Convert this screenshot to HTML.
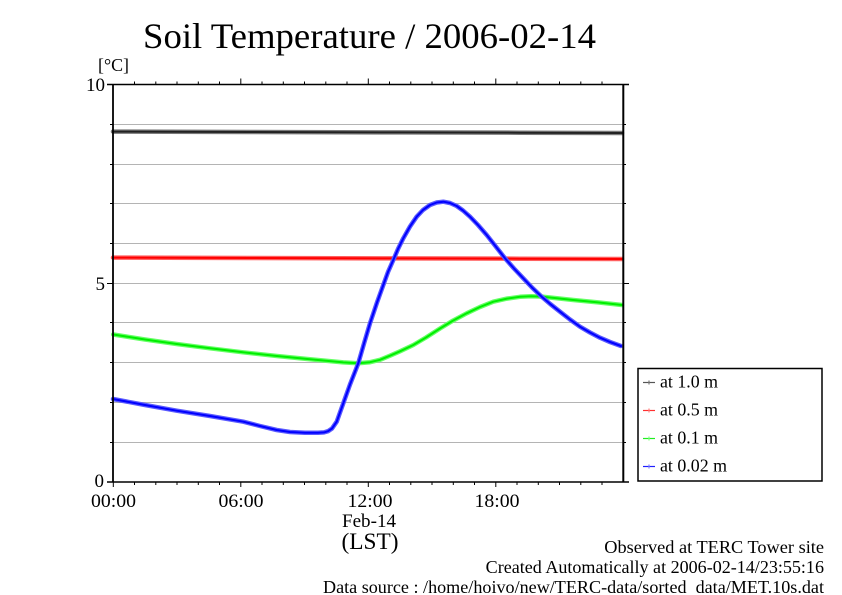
<!DOCTYPE html>
<html>
<head>
<meta charset="utf-8">
<style>
  html, body { margin: 0; padding: 0; background: #ffffff; }
  svg { display: block; }
  text { font-family: "Liberation Serif", "DejaVu Serif", serif; fill: #000; }
</style>
</head>
<body>
<svg width="842" height="595" viewBox="0 0 842 595" xmlns="http://www.w3.org/2000/svg">
  <rect x="0" y="0" width="842" height="595" fill="#ffffff"/>

  <!-- Title -->
  <text x="143" y="48" font-size="36" textLength="453" lengthAdjust="spacingAndGlyphs">Soil Temperature / 2006-02-14</text>

  <!-- unit -->
  <text x="98" y="71" font-size="18" textLength="31" lengthAdjust="spacingAndGlyphs">[°C]</text>

  <!-- Grid lines -->
  <g stroke="#b4b4b4" stroke-width="1" shape-rendering="crispEdges">
    <line x1="113" y1="124.5" x2="623" y2="124.5"/>
    <line x1="113" y1="164.5" x2="623" y2="164.5"/>
    <line x1="113" y1="203.5" x2="623" y2="203.5"/>
    <line x1="113" y1="243.5" x2="623" y2="243.5"/>
    <line x1="113" y1="283.5" x2="623" y2="283.5"/>
    <line x1="113" y1="322.5" x2="623" y2="322.5"/>
    <line x1="113" y1="362.5" x2="623" y2="362.5"/>
    <line x1="113" y1="402.5" x2="623" y2="402.5"/>
    <line x1="113" y1="442.5" x2="623" y2="442.5"/>
  </g>

  <!-- Y ticks left/right -->
  <g stroke="#000" stroke-width="1" shape-rendering="crispEdges">
    <line x1="110" y1="124.5" x2="113" y2="124.5"/>
    <line x1="110" y1="164.5" x2="113" y2="164.5"/>
    <line x1="110" y1="203.5" x2="113" y2="203.5"/>
    <line x1="110" y1="243.5" x2="113" y2="243.5"/>
    <line x1="107" y1="283.5" x2="113" y2="283.5"/>
    <line x1="110" y1="322.5" x2="113" y2="322.5"/>
    <line x1="110" y1="362.5" x2="113" y2="362.5"/>
    <line x1="110" y1="402.5" x2="113" y2="402.5"/>
    <line x1="110" y1="442.5" x2="113" y2="442.5"/>
    <line x1="623" y1="124.5" x2="626" y2="124.5"/>
    <line x1="623" y1="164.5" x2="626" y2="164.5"/>
    <line x1="623" y1="203.5" x2="626" y2="203.5"/>
    <line x1="623" y1="243.5" x2="626" y2="243.5"/>
    <line x1="623" y1="283.5" x2="629" y2="283.5"/>
    <line x1="623" y1="322.5" x2="626" y2="322.5"/>
    <line x1="623" y1="362.5" x2="626" y2="362.5"/>
    <line x1="623" y1="402.5" x2="626" y2="402.5"/>
    <line x1="623" y1="442.5" x2="626" y2="442.5"/>
  </g>

  <!-- X ticks top (up) and bottom (down), hourly -->
  <g stroke="#000" stroke-width="1">
    <line x1="134.5" y1="84.5" x2="134.5" y2="81.5"/><line x1="155.8" y1="84.5" x2="155.8" y2="81.5"/>
    <line x1="177" y1="84.5" x2="177" y2="81.5"/><line x1="198.3" y1="84.5" x2="198.3" y2="81.5"/>
    <line x1="219.5" y1="84.5" x2="219.5" y2="81.5"/><line x1="240.8" y1="84.5" x2="240.8" y2="78.5"/>
    <line x1="262" y1="84.5" x2="262" y2="81.5"/><line x1="283.3" y1="84.5" x2="283.3" y2="81.5"/>
    <line x1="304.5" y1="84.5" x2="304.5" y2="81.5"/><line x1="325.8" y1="84.5" x2="325.8" y2="81.5"/>
    <line x1="347" y1="84.5" x2="347" y2="81.5"/><line x1="368.3" y1="84.5" x2="368.3" y2="78.5"/>
    <line x1="389.5" y1="84.5" x2="389.5" y2="81.5"/><line x1="410.8" y1="84.5" x2="410.8" y2="81.5"/>
    <line x1="432" y1="84.5" x2="432" y2="81.5"/><line x1="453.3" y1="84.5" x2="453.3" y2="81.5"/>
    <line x1="474.5" y1="84.5" x2="474.5" y2="81.5"/><line x1="495.8" y1="84.5" x2="495.8" y2="78.5"/>
    <line x1="517" y1="84.5" x2="517" y2="81.5"/><line x1="538.3" y1="84.5" x2="538.3" y2="81.5"/>
    <line x1="559.5" y1="84.5" x2="559.5" y2="81.5"/><line x1="580.8" y1="84.5" x2="580.8" y2="81.5"/>
    <line x1="602" y1="84.5" x2="602" y2="81.5"/>

    <line x1="113.3" y1="482" x2="113.3" y2="487"/>
    <line x1="134.5" y1="482" x2="134.5" y2="485"/><line x1="155.8" y1="482" x2="155.8" y2="485"/>
    <line x1="177" y1="482" x2="177" y2="485"/><line x1="198.3" y1="482" x2="198.3" y2="485"/>
    <line x1="219.5" y1="482" x2="219.5" y2="485"/><line x1="240.8" y1="482" x2="240.8" y2="487"/>
    <line x1="262" y1="482" x2="262" y2="485"/><line x1="283.3" y1="482" x2="283.3" y2="485"/>
    <line x1="304.5" y1="482" x2="304.5" y2="485"/><line x1="325.8" y1="482" x2="325.8" y2="485"/>
    <line x1="347" y1="482" x2="347" y2="485"/><line x1="368.3" y1="482" x2="368.3" y2="487"/>
    <line x1="389.5" y1="482" x2="389.5" y2="485"/><line x1="410.8" y1="482" x2="410.8" y2="485"/>
    <line x1="432" y1="482" x2="432" y2="485"/><line x1="453.3" y1="482" x2="453.3" y2="485"/>
    <line x1="474.5" y1="482" x2="474.5" y2="485"/><line x1="495.8" y1="482" x2="495.8" y2="487"/>
    <line x1="517" y1="482" x2="517" y2="485"/><line x1="538.3" y1="482" x2="538.3" y2="485"/>
    <line x1="559.5" y1="482" x2="559.5" y2="485"/><line x1="580.8" y1="482" x2="580.8" y2="485"/>
    <line x1="602" y1="482" x2="602" y2="485"/>
  </g>

  <!-- Data series -->
  <g fill="none" stroke-linejoin="round" stroke-linecap="round">
    <!-- 1.0 m (black) -->
    <polyline stroke="#7a7a7a" stroke-width="4.5" points="113,131.6 250,132 400,132.4 520,132.7 622,133"/>
    <polyline stroke="#222222" stroke-width="2" points="113,131.6 250,132 400,132.4 520,132.7 622,133"/>

    <!-- 0.5 m (red) -->
    <polyline stroke="#ff6060" stroke-width="4.5" points="113,257.6 250,258 400,258.4 520,258.7 622,259"/>
    <polyline stroke="#ff0000" stroke-width="2" points="113,257.6 250,258 400,258.4 520,258.7 622,259"/>

    <!-- 0.1 m (green) -->
    <polyline stroke="#66ff66" stroke-width="4.5" points="113.3,334.5 145,339.5 176.7,344 210,348.3 243,352.3 277,356 310,359.3 343.3,362.4 358,363.2 370,362.2 380,359.8 390,355.7 400,351.3 413.3,345 426,337.5 440,328.5 453,320.6 466.7,313.3 480,307 493.3,301.7 507,298.6 520,296.8 531,296.3 541.7,296.6 557,298.2 573.3,300 598,302.4 622,305"/>
    <polyline stroke="#00ee00" stroke-width="2" points="113.3,334.5 145,339.5 176.7,344 210,348.3 243,352.3 277,356 310,359.3 343.3,362.4 358,363.2 370,362.2 380,359.8 390,355.7 400,351.3 413.3,345 426,337.5 440,328.5 453,320.6 466.7,313.3 480,307 493.3,301.7 507,298.6 520,296.8 531,296.3 541.7,296.6 557,298.2 573.3,300 598,302.4 622,305"/>

    <!-- 0.02 m (blue) -->
    <polyline stroke="#5a5aff" stroke-width="4.5" points="113,399 145,405 176.7,410.7 210,416 243.3,421.7 260,426 276.7,430 290,432 305,432.8 318,432.8 324,432.4 328,431.2 332,428.5 336.7,421.7 343.3,403.3 350,384.5 358.3,363.3 364,343.5 370,323.3 377,302.5 383.3,285 388,272 393.3,260 398,249 403.3,238.3 410,226.5 416.7,216.7 423,210 430,205 436.7,202.5 443.3,201.7 450,203 456.7,206 463,210.5 470,216.7 478,225 486.7,235 495,245.5 505,258.3 514,268.5 523.3,278.3 532,287.5 541.7,296.7 550,303.8 560,311.7 570,319.5 580,326.7 590,332.5 600,337.7 610,342 621,346"/>
    <polyline stroke="#0000ff" stroke-width="2" points="113,399 145,405 176.7,410.7 210,416 243.3,421.7 260,426 276.7,430 290,432 305,432.8 318,432.8 324,432.4 328,431.2 332,428.5 336.7,421.7 343.3,403.3 350,384.5 358.3,363.3 364,343.5 370,323.3 377,302.5 383.3,285 388,272 393.3,260 398,249 403.3,238.3 410,226.5 416.7,216.7 423,210 430,205 436.7,202.5 443.3,201.7 450,203 456.7,206 463,210.5 470,216.7 478,225 486.7,235 495,245.5 505,258.3 514,268.5 523.3,278.3 532,287.5 541.7,296.7 550,303.8 560,311.7 570,319.5 580,326.7 590,332.5 600,337.7 610,342 621,346"/>
  </g>

  <!-- Axes frame -->
  <g stroke="#000" fill="none">
    <line x1="107" y1="84.5" x2="629" y2="84.5" stroke-width="1.5"/>
    <line x1="107" y1="482" x2="629" y2="482" stroke-width="1.5"/>
    <line x1="113" y1="84" x2="113" y2="482.5" stroke-width="1.8"/>
    <line x1="623.3" y1="84" x2="623.3" y2="482.5" stroke-width="2"/>
  </g>

  <!-- Y labels -->
  <text x="105" y="91" font-size="19" text-anchor="end">10</text>
  <text x="105" y="290" font-size="19" text-anchor="end">5</text>
  <text x="104" y="487" font-size="19" text-anchor="end">0</text>

  <!-- X labels -->
  <text x="113.5" y="507" font-size="19" text-anchor="middle" textLength="45" lengthAdjust="spacingAndGlyphs">00:00</text>
  <text x="241" y="507" font-size="19" text-anchor="middle" textLength="45" lengthAdjust="spacingAndGlyphs">06:00</text>
  <text x="370" y="507" font-size="19" text-anchor="middle" textLength="45" lengthAdjust="spacingAndGlyphs">12:00</text>
  <text x="497" y="507" font-size="19" text-anchor="middle" textLength="45" lengthAdjust="spacingAndGlyphs">18:00</text>
  <text x="369" y="527" font-size="19" text-anchor="middle" textLength="54" lengthAdjust="spacingAndGlyphs">Feb-14</text>
  <text x="370" y="549" font-size="23" text-anchor="middle" textLength="57" lengthAdjust="spacingAndGlyphs">(LST)</text>

  <!-- Legend -->
  <rect x="638" y="368.5" width="184" height="112.5" fill="#fff" stroke="#000" stroke-width="1.5"/>
  <g stroke-width="1.2">
    <line x1="643" y1="382.5" x2="655" y2="382.5" stroke="#555"/>
    <line x1="649" y1="380.5" x2="649" y2="384.5" stroke="#777"/>
    <line x1="643" y1="410.5" x2="655" y2="410.5" stroke="#ff3030"/>
    <line x1="649" y1="408.5" x2="649" y2="412.5" stroke="#ff8080"/>
    <line x1="643" y1="438.5" x2="655" y2="438.5" stroke="#20ee20"/>
    <line x1="649" y1="436.5" x2="649" y2="440.5" stroke="#80ff80"/>
    <line x1="643" y1="466.5" x2="655" y2="466.5" stroke="#2020ff"/>
    <line x1="649" y1="464.5" x2="649" y2="468.5" stroke="#8080ff"/>
  </g>
  <text x="660" y="387.5" font-size="18" textLength="58" lengthAdjust="spacingAndGlyphs">at 1.0 m</text>
  <text x="660" y="415.5" font-size="18" textLength="58" lengthAdjust="spacingAndGlyphs">at 0.5 m</text>
  <text x="660" y="443.5" font-size="18" textLength="58" lengthAdjust="spacingAndGlyphs">at 0.1 m</text>
  <text x="660" y="471.5" font-size="18" textLength="67" lengthAdjust="spacingAndGlyphs">at 0.02 m</text>

  <!-- Footer -->
  <text x="604.3" y="553" font-size="18" textLength="219.7" lengthAdjust="spacingAndGlyphs">Observed at TERC Tower site</text>
  <text x="485.7" y="573" font-size="18" textLength="338.3" lengthAdjust="spacingAndGlyphs">Created Automatically at 2006-02-14/23:55:16</text>
  <text x="323" y="593" font-size="18" textLength="501" lengthAdjust="spacingAndGlyphs">Data source : /home/hoivo/new/TERC-data/sorted<tspan fill="#ffffff">_</tspan>data/MET.10s.dat</text>
</svg>
</body>
</html>
